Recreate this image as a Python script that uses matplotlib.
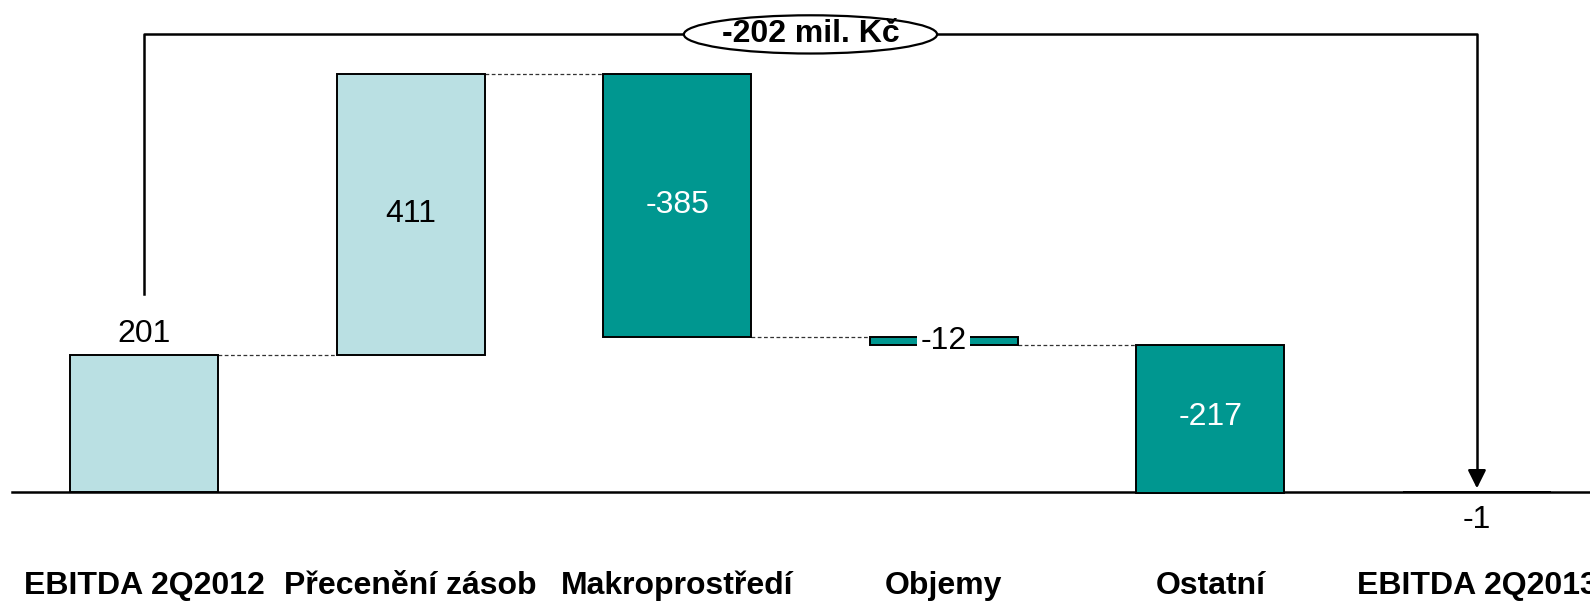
import matplotlib
matplotlib.use("Agg")
import matplotlib.pyplot as plt
from matplotlib.patches import Ellipse

categories = ["EBITDA 2Q2012", "Přecenění zásob", "Makroprostředí", "Objemy", "Ostatní", "EBITDA 2Q2013"]
values = [201, 411, -385, -12, -217, -1]
kinds = ["total", "delta", "delta", "delta", "delta", "total"]
value_labels = ["201", "411", "-385", "-12", "-217", "-1"]
diff_label = "-202 mil. Kč"

LIGHT = "#BAE0E3"
DARK = "#009790"

plt.rcParams['font.family'] = ['Liberation Sans', 'DejaVu Sans']

fig = plt.figure(figsize=(15.9, 6.03), dpi=100)
ax = fig.add_axes([0, 0, 1, 1])
ax.set_xlim(-0.540, 5.424)
ax.set_ylim(-163, 720.4)
ax.axis('off')

width = 0.555
bottoms, tops = [], []
cum = 0
for v, k in zip(values, kinds):
    if k == "total":
        b, t = 0, v
        cum = v
    else:
        b, t = cum, cum + v
        cum += v
    bottoms.append(b)
    tops.append(t)

# baseline
ax.plot([-0.495, 5.424], [0, 0], color='black', lw=1.8, zorder=1)

for i, (b, t, v) in enumerate(zip(bottoms, tops, values)):
    color = LIGHT if v > 0 else DARK
    ax.bar(i, t - b, bottom=b, width=width, color=color, edgecolor='black', lw=1.4, zorder=3)

# connectors
for i in range(len(values) - 2):
    level = tops[i]
    ax.plot([i + width / 2, i + 1 - width / 2], [level, level], ls=(0, (3, 2)),
            color='#333333', lw=0.9, zorder=2)

fs = 23
# value labels
ax.text(0, tops[0] + 30, value_labels[0], ha='center', va='center', fontsize=fs)
ax.text(1, (bottoms[1] + tops[1]) / 2, value_labels[1], ha='center', va='center', fontsize=fs)
ax.text(2, (bottoms[2] + tops[2]) / 2, value_labels[2], ha='center', va='center', fontsize=fs, color='white')
ax.text(3, (bottoms[3] + tops[3]) / 2, value_labels[3], ha='center', va='center', fontsize=fs,
        bbox=dict(boxstyle='square,pad=0.1', fc='white', ec='none'), zorder=5)
ax.text(4, (bottoms[4] + tops[4]) / 2 + 3, value_labels[4], ha='center', va='center', fontsize=fs, color='white')
ax.text(5, -42, value_labels[5], ha='center', va='center', fontsize=fs)

# category labels
for i, c in enumerate(categories):
    ax.text(i, -138, c, ha='center', va='center', fontsize=23, fontweight='bold', clip_on=False)

# bracket
top_y = 670
ax.plot([0, 0, 5, 5], [290, top_y, top_y, 25], color='black', lw=1.8, zorder=4)
ax.annotate("", xy=(5, 5), xytext=(5, 30),
            arrowprops=dict(arrowstyle='-|>,head_length=1.1,head_width=0.55', color='black', lw=1.8,
                            shrinkA=0, shrinkB=0), zorder=4)
ell = Ellipse((2.5, top_y), width=0.95, height=56, fc='white', ec='black', lw=1.6, zorder=5)
ax.add_patch(ell)
ax.text(2.5, top_y, diff_label, ha='center', va='center', fontsize=23, fontweight='bold', zorder=6)

fig.savefig("out.png", dpi=100)
